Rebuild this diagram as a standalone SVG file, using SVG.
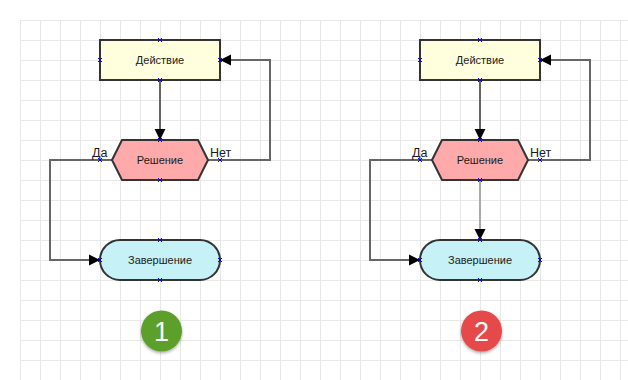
<svg xmlns="http://www.w3.org/2000/svg" width="628" height="380" viewBox="0 0 628 380">
<style>
.t{font-family:"Liberation Sans",Arial,sans-serif;font-size:11px;fill:#1a1a1a}
.l{font-family:"Liberation Sans",Arial,sans-serif;font-size:12.5px;fill:#1a1a1a}
.c{text-anchor:middle}
.node{stroke:#333;stroke-width:2}
.act{fill:#ffffdd}
.dec{fill:#ffaaaa}
.term{fill:#c6f1f7}
.con{fill:none;stroke:#666;stroke-width:2}
.con2{fill:none;stroke:#aaa;stroke-width:2}
.port{fill:none;stroke:#0000ee;stroke-width:1}
.badge{font-family:"Liberation Sans",Arial,sans-serif;font-size:27px;fill:#fff;text-anchor:middle}
</style>
<defs>
<pattern id="grid" width="20" height="20" patternUnits="userSpaceOnUse">
<rect x="0" y="0" width="1" height="20" fill="#e8e8e8"/>
<rect x="0" y="0" width="20" height="1" fill="#e8e8e8"/>
</pattern>
<marker id="arr" markerUnits="userSpaceOnUse" markerWidth="12" markerHeight="12" refX="11" refY="6" orient="auto">
<path d="M0,0.5 L11,6 L0,11.5 z" fill="#000"/>
</marker>
<path id="px" class="port" d="M-2,-2 L2,2 M-2,2 L2,-2"/>
<filter id="sh" x="-30%" y="-30%" width="160%" height="160%">
<feDropShadow dx="0" dy="1.5" stdDeviation="1.5" flood-color="#000" flood-opacity="0.35"/>
</filter>
</defs>
<rect width="628" height="380" fill="#fff"/>
<rect x="20" y="20" width="608" height="360" fill="url(#grid)"/>

<g id="connectors">
<path class="con" d="M160,80 V140" marker-end="url(#arr)"/>
<path class="con" d="M208,160 H270 V60 H220" marker-end="url(#arr)"/>
<path class="con" d="M112,160 H50 V260 H100" marker-end="url(#arr)"/>
<path class="con" d="M480,80 V140" marker-end="url(#arr)"/>
<path class="con" d="M528,160 H590 V60 H540" marker-end="url(#arr)"/>
<path class="con" d="M432,160 H370 V260 H420" marker-end="url(#arr)"/>
<path class="con2" d="M480,180 V240" marker-end="url(#arr)"/>
</g>

<g id="action1">
<rect class="node act" x="100" y="40" width="120" height="40"/>
<text class="t c" x="160" y="64">Действие</text>
</g>
<g id="decision1">
<polygon class="node dec" points="112,160 122,140 198,140 208,160 198,180 122,180"/>
<text class="t c" x="160" y="164">Решение</text>
<text class="l" x="107.5" y="157" text-anchor="end">Да</text>
<text class="l" x="210" y="157">Нет</text>
</g>
<g id="end1">
<rect class="node term" x="100" y="240" width="120" height="40" rx="20"/>
<text class="t c" x="160" y="264">Завершение</text>
</g>
<g id="badge1">
<circle cx="161.5" cy="331" r="20.5" fill="#5c9f2a" filter="url(#sh)"/>
<text class="badge" x="161.5" y="341">1</text>
</g>

<g id="action2">
<rect class="node act" x="420" y="40" width="120" height="40"/>
<text class="t c" x="480" y="64">Действие</text>
</g>
<g id="decision2">
<polygon class="node dec" points="432,160 442,140 518,140 528,160 518,180 442,180"/>
<text class="t c" x="480" y="164">Решение</text>
<text class="l" x="427.5" y="157" text-anchor="end">Да</text>
<text class="l" x="530" y="157">Нет</text>
</g>
<g id="end2">
<rect class="node term" x="420" y="240" width="120" height="40" rx="20"/>
<text class="t c" x="480" y="264">Завершение</text>
</g>
<g id="badge2">
<circle cx="481.5" cy="331" r="20.5" fill="#e54848" filter="url(#sh)"/>
<text class="badge" x="481.5" y="341">2</text>
</g>

<g id="ports">
<use href="#px" x="160" y="40"/><use href="#px" x="100" y="60"/><use href="#px" x="220" y="60"/><use href="#px" x="160" y="80"/>
<use href="#px" x="160" y="140"/><use href="#px" x="100" y="160"/><use href="#px" x="220" y="160"/><use href="#px" x="160" y="180"/>
<use href="#px" x="160" y="240"/><use href="#px" x="100" y="260"/><use href="#px" x="220" y="260"/><use href="#px" x="160" y="280"/>
<use href="#px" x="480" y="40"/><use href="#px" x="420" y="60"/><use href="#px" x="540" y="60"/><use href="#px" x="480" y="80"/>
<use href="#px" x="480" y="140"/><use href="#px" x="420" y="160"/><use href="#px" x="540" y="160"/><use href="#px" x="480" y="180"/>
<use href="#px" x="480" y="240"/><use href="#px" x="420" y="260"/><use href="#px" x="540" y="260"/><use href="#px" x="480" y="280"/>
</g>
</svg>
